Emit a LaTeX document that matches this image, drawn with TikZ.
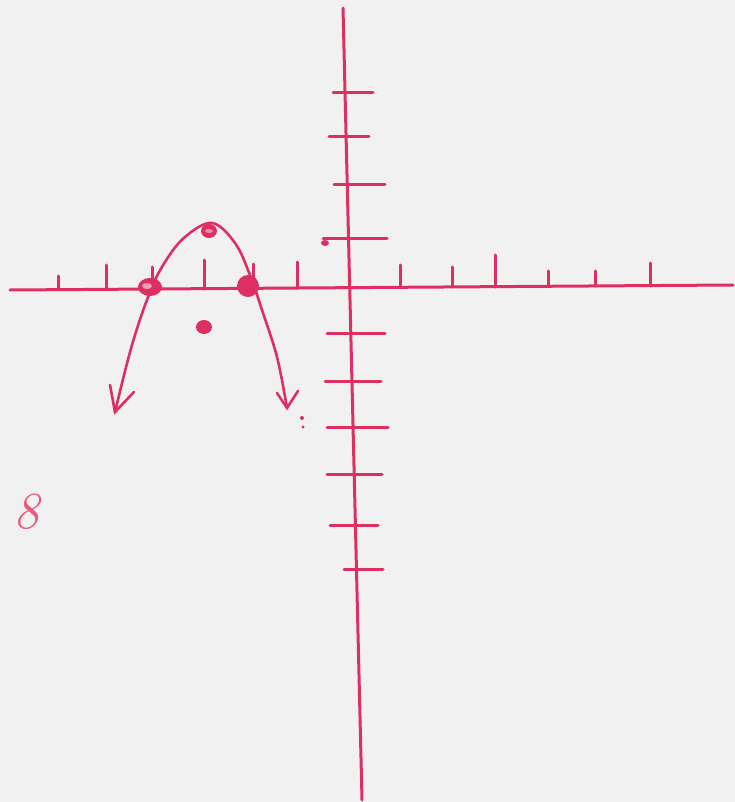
\documentclass[tikz,border=0pt]{standalone}
\usepackage{xcolor}
\usetikzlibrary{arrows.meta}
\definecolor{Paper}{HTML}{F1F1F2}
\definecolor{InkRed}{HTML}{DE2F62}
\definecolor{InkPink}{HTML}{E85A80}

\begin{document}
\begin{tikzpicture}[x=1pt, y=-1pt,
  axis/.style={draw=InkRed, line width=3pt, line cap=round},
  tick/.style={draw=InkRed, line width=3pt, line cap=round},
  curve/.style={draw=InkRed, line width=2.6pt, line cap=round, line join=round},
  barb/.style={draw=InkRed, line width=2.6pt, line cap=round},
  dot/.style={fill=InkRed}]

  % Papier
  \fill[Paper] (0,0) rectangle (735,802);
  \useasboundingbox (0,0) rectangle (735,802);

  % Achsen
  \coordinate (xl) at (10,290);
  \coordinate (xr) at (733,285);
  \coordinate (yt) at (343,8);
  \coordinate (yb) at (362,800);
  \draw[axis] (xl) -- (xr);
  \draw[axis] (yt) -- (yb);

  % Striche auf der y-Achse: y / links / rechts
  \foreach \y/\l/\r in {93/333/373, 137/329/369, 185/334/385, 238/323/387,
                        333/327/385, 381/325/381, 427/327/388, 474/327/382,
                        525/330/378, 569/344/383}
    \draw[tick] (\l,\y) -- (\r,\y);

  % Striche auf der x-Achse: x / oben / unten
  \foreach \x/\t/\b in {58/276/289, 106/265/289, 152/267/289, 204/260/289,
                        253/264/288, 297/262/288, 400/265/287, 452/267/287,
                        495/255/287, 548/271/286, 595/271/286, 650/263/286}
    \draw[tick] (\x,\t) -- (\x,\b);

  % Parabel
  \coordinate (tipL) at (115,412);
  \coordinate (tipR) at (287,408);
  \draw[curve] plot[smooth, tension=0.6] coordinates {(tipL) (132,345) (150,292)
    (165,262) (185,237) (212,223) (235,243) (250,275) (262,310) (277,357) (tipR)};

  % Pfeilspitzen
  \draw[barb] (110,385) -- (tipL) -- (134,392);
  \draw[barb] (277,393) -- (tipR) -- (298,391);

  % Punkte
  \coordinate (rootL) at (150,287);
  \coordinate (rootR) at (248,286);
  \coordinate (vertex) at (209,231);
  \coordinate (lower) at (204,327);
  \fill[dot] (rootL) ellipse (12pt and 9pt);
  \fill[Paper!60!InkRed] (147,286) ellipse (5pt and 3pt);
  \fill[dot] (rootR) circle (11pt);
  \fill[dot] (vertex) ellipse (8pt and 7pt);
  \fill[Paper!50!InkRed] (vertex) ellipse (4pt and 2pt);
  \fill[dot] (lower) ellipse (8pt and 7pt);

  % kleine Flecken
  \fill[InkRed] (325,243) ellipse (4pt and 3pt);
  \fill[InkRed] (302,418) circle (2pt);
  \fill[InkRed] (303,427) circle (1.6pt);

  % Ziffer links
  \node[text=InkPink, font=\fontsize{52}{52}\selectfont\itshape] (eight) at (26,512) {8};

\end{tikzpicture}
\end{document}
